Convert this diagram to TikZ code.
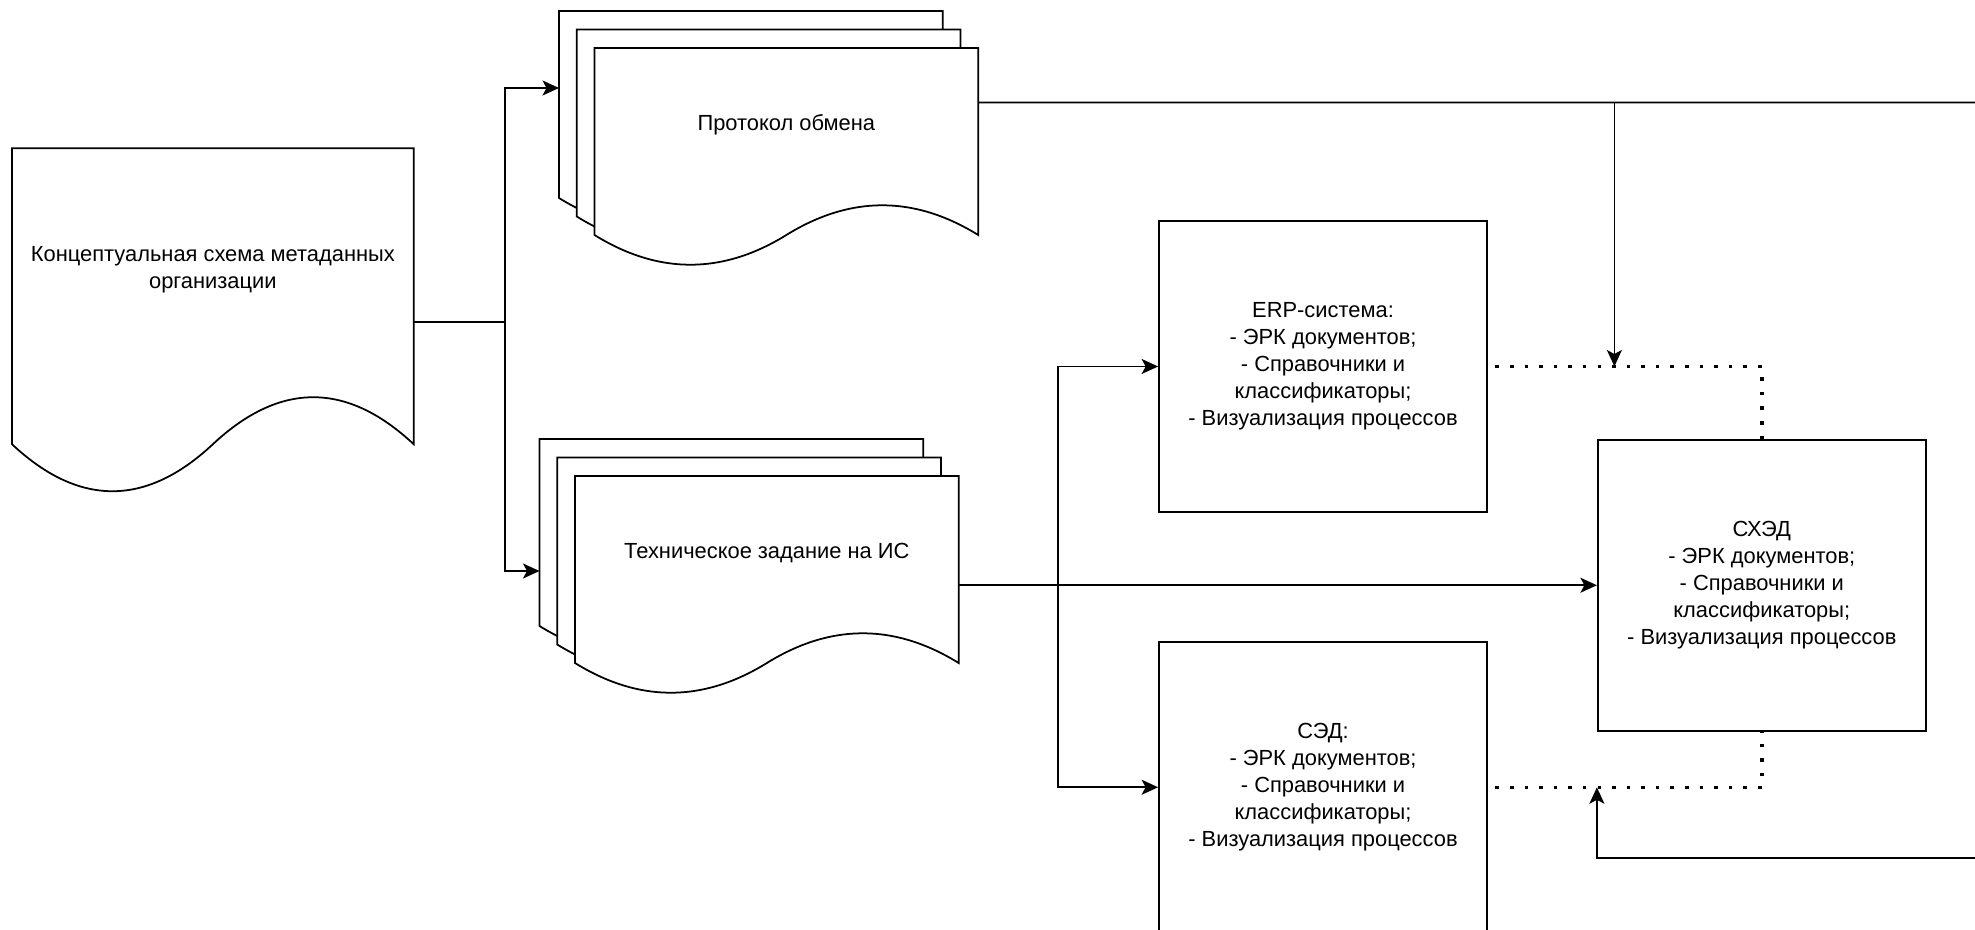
\documentclass[tikz,border=0pt]{standalone}
\usepackage{fontspec}
\setmainfont{Liberation Sans}
\usetikzlibrary{positioning, arrows.meta, calc, backgrounds}

\begin{document}
\begin{tikzpicture}[
    every node/.style={font=\fontsize{12.45}{15.3}\selectfont},
    docpage/.style={rectangle, inner sep=0pt, minimum width=7.66cm, minimum height=3.066cm, align=center},
    conceptdoc/.style={docpage, minimum width=8.02cm, minimum height=4.86cm},
    docline/.style={draw, fill=white, line width=1pt},
    sysbox/.style={rectangle, draw, fill=white, line width=1pt, minimum width=6.56cm, minimum height=5.82cm, align=center},
    arrow/.style={-{Stealth[length=0.33cm, width=0.3cm, inset=0.08cm]}, line width=1pt},
    link/.style={line width=1pt},
    dotline/.style={line width=2pt, dash pattern=on 2pt off 6.3pt, dash phase=4pt},
]
\useasboundingbox (0,0) rectangle (39.5,-18.6);

% Concept document
\node[conceptdoc, anchor=north west] (concept) at (0.24,-2.966) {Концептуальная схема метаданных\\организации};

% Exchange protocol (stacked pages)
\node[docpage, anchor=north west] (protoA) at (11.18,-0.22) {};
\node[docpage, below right=0.37cm and 0.355cm of protoA.north west] (protoB) {};
\node[docpage, below right=0.37cm and 0.355cm of protoB.north west] (proto) {Протокол обмена};

% Technical task (stacked pages)
\node[docpage, anchor=north west] (techA) at (10.79,-8.78) {};
\node[docpage, below right=0.37cm and 0.355cm of techA.north west] (techB) {};
\node[docpage, below right=0.37cm and 0.355cm of techB.north west] (tech) {Техническое задание на ИС};

% Page outlines
\begin{scope}[on background layer]
\foreach \pg in {concept, protoA, protoB, proto, techA, techB, tech}
  \draw[docline] let \p1 = (\pg.north west), \p2 = (\pg.south east),
      \n1 = {\x2 - \x1}, \n2 = {(\y1 - \y2)/0.7} in
      (\p1) -- (\x2,\y1) -- (\x2,\y1-0.85*\n2)
      .. controls (\x1+0.8333*\n1,\y1-0.67*\n2) and (\x1+0.6667*\n1,\y1-0.67*\n2) .. (\x1+0.5*\n1,\y1-0.85*\n2)
      .. controls (\x1+0.3333*\n1,\y1-1.03*\n2) and (\x1+0.1667*\n1,\y1-1.03*\n2) .. (\x1,\y1-0.85*\n2)
      -- cycle;
\end{scope}

% Systems
\node[sysbox] (erp) at (26.46,-7.33) {ERP-система:\\- ЭРК документов;\\- Справочники и\\классификаторы;\\- Визуализация процессов};
\node[sysbox, below=2.56cm of erp] (sed) {СЭД:\\- ЭРК документов;\\- Справочники и\\классификаторы;\\- Визуализация процессов};
\node[sysbox, right=2.18cm of erp, yshift=-4.375cm] (schd) {СХЭД\\- ЭРК документов;\\- Справочники и\\классификаторы;\\- Визуализация процессов};

% Junctions and free ends
\coordinate (split) at ($(erp.west |- schd.west)+(-2.01,0)$);
\coordinate (merge) at ($(schd.west |- erp.east)+(0.35,0)$);
\coordinate (edgeTop) at (39.5,-2.05);
\coordinate (edgeBot) at (39.5,-17.16);

% Concept to documents
\draw[arrow] ([yshift=-1.04cm]concept.east) -- ++(1.83,0) |- (protoA.west);
\draw[arrow] ([yshift=-1.04cm]concept.east) -- ++(1.83,0) |- ([yshift=-1.1cm]techA.west);

% Protocol
\draw[link] ([yshift=-1.09cm]proto.north east) -- (edgeTop);
\draw[arrow] ([yshift=-1.09cm]proto.north east) -| (merge);

% Technical task to systems
\draw[arrow] (tech.east |- schd.west) -- (schd.west);
\foreach \sys in {erp, sed}
  \draw[arrow] (tech.east |- schd.west) -- (split) |- (\sys.west);

% Dotted links
\draw[dotline] (erp.east) -| (schd.north);
\draw[dotline] (sed.east) -| (schd.south);

% Return
\draw[arrow] (edgeBot) -| (schd.west |- sed.east);

\end{tikzpicture}
\end{document}
